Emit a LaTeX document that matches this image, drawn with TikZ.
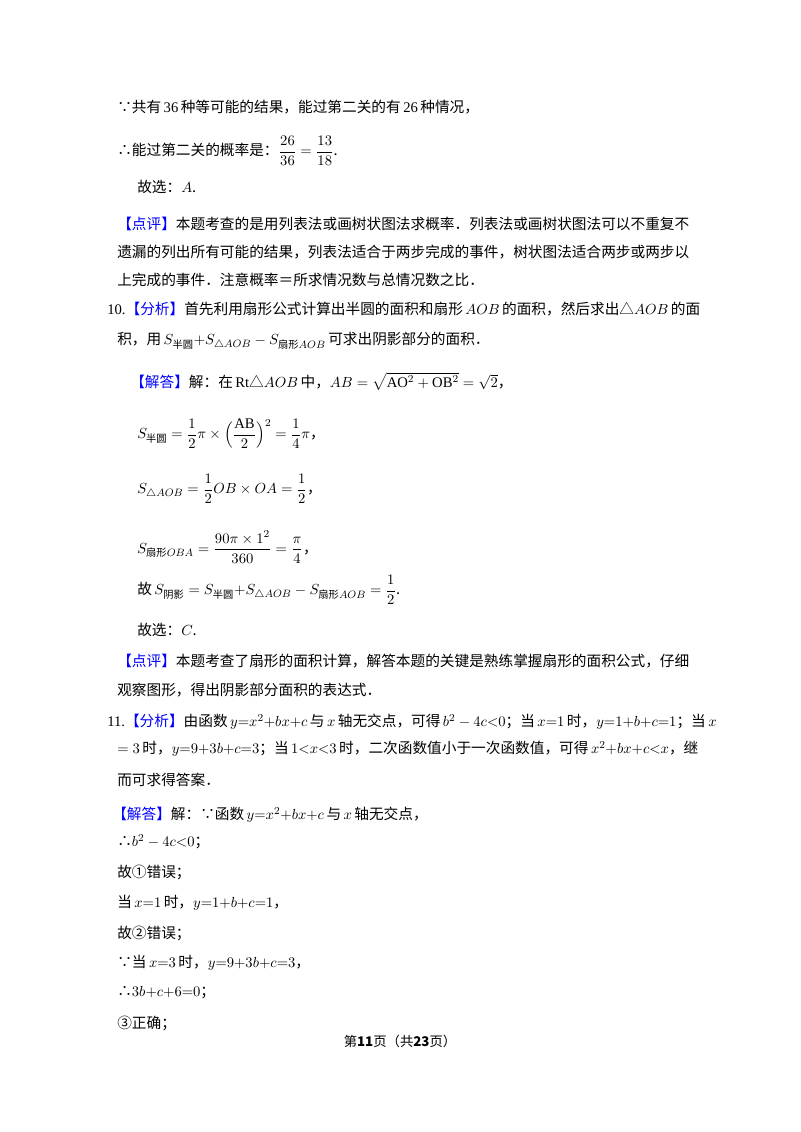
\documentclass[tikz,border=0pt]{standalone}
\usepackage{amsmath}
\usepackage{fontspec}
\setmainfont{Liberation Serif}
\newfontfamily\cjk{Noto Sans CJK SC}
\newcommand{\cn}[1]{\text{\cjk #1}}
\newcommand{\bk}[1]{{\color{blue}【#1】}}
\begin{document}
\begin{tikzpicture}[x=0.75pt,y=-0.75pt,
  txt/.style={anchor=west,inner sep=0pt,font=\cjk\fontsize{11}{13}\selectfont}]
\useasboundingbox[fill=white] (0,0) rectangle (800,1132);
\node[txt] (l1) at (117,107) {∵共有\,{\rmfamily 36}\,种等可能的结果，能过第二关的有\,{\rmfamily 26}\,种情况，};
\node[txt] (l2) at (117,151) {∴能过第二关的概率是：$\dfrac{26}{36}=\dfrac{13}{18}$.};
\node[txt] (l3) at (137,187) {故选：$A$.};
\node[txt] (l4) at (117,224) {\bk{点评}本题考查的是用列表法或画树状图法求概率．列表法或画树状图法可以不重复不};
\node[txt] (l5) at (117,252) {遗漏的列出所有可能的结果，列表法适合于两步完成的事件，树状图法适合两步或两步以};
\node[txt] (l6) at (117,280) {上完成的事件．注意概率＝所求情况数与总情况数之比．};
\node[txt] (l7) at (107,309) {{\rmfamily 10.}\bk{分析}首先利用扇形公式计算出半圆的面积和扇形\,$AOB$\,的面积，然后求出△$AOB$\,的面};
\node[txt] (l8) at (117,341) {积，用\,$S_{\cn{半圆}}{+}S_{\triangle AOB}-S_{\cn{扇形}AOB}$\,可求出阴影部分的面积．};
\node[txt] (l9) at (130,381) {\bk{解答}解：在\,{\rmfamily Rt}△$AOB$\,中，$AB=\sqrt{\mathrm{AO}^2+\mathrm{OB}^2}=\sqrt{2}$，};
\node[txt] (l10) at (137,434) {$S_{\cn{半圆}}=\dfrac{1}{2}\pi\times\Big(\dfrac{\mathrm{AB}}{2}\Big)^2=\dfrac{1}{4}\pi$，};
\node[txt] (l11) at (137,489) {$S_{\triangle AOB}=\dfrac{1}{2}OB\times OA=\dfrac{1}{2}$，};
\node[txt] (l12) at (137,547) {$S_{\cn{扇形}OBA}=\dfrac{90\pi\times1^2}{360}=\dfrac{\pi}{4}$，};
\node[txt] (l13) at (137,590) {故\,$S_{\cn{阴影}}=S_{\cn{半圆}}{+}S_{\triangle AOB}-S_{\cn{扇形}AOB}=\dfrac{1}{2}$.};
\node[txt] (l14) at (137,630) {故选：$C$.};
\node[txt] (l15) at (117,661) {\bk{点评}本题考查了扇形的面积计算，解答本题的关键是熟练掌握扇形的面积公式，仔细};
\node[txt] (l16) at (117,690) {观察图形，得出阴影部分面积的表达式．};
\node[txt] (l17) at (107,722) {{\rmfamily 11.}\bk{分析}由函数\,$y{=}x^2{+}bx{+}c$\,与\,$x$\,轴无交点，可得\,$b^2-4c{<}0$；当\,$x{=}1$\,时，$y{=}1{+}b{+}c{=}1$；当\,$x$};
\node[txt] (l18) at (117,749) {$=3$\,时，$y{=}9{+}3b{+}c{=}3$；当\,$1{<}x{<}3$\,时，二次函数值小于一次函数值，可得\,$x^2{+}bx{+}c{<}x$，继};
\node[txt] (l19) at (117,780) {而可求得答案．};
\node[txt] (l20) at (112,815) {\bk{解答}解：∵函数\,$y{=}x^2{+}bx{+}c$\,与\,$x$\,轴无交点，};
\node[txt] (l21) at (117,842) {∴$b^2-4c{<}0$；};
\node[txt] (l22) at (117,872) {故①错误；};
\node[txt] (l23) at (117,903) {当\,$x{=}1$\,时，$y{=}1{+}b{+}c{=}1$，};
\node[txt] (l24) at (117,933) {故②错误；};
\node[txt] (l25) at (117,963) {∵当\,$x{=}3$\,时，$y{=}9{+}3b{+}c{=}3$，};
\node[txt] (l26) at (117,993) {∴$3b{+}c{+}6{=}0$；};
\node[txt] (l27) at (117,1023) {③正确；};
\node[inner sep=0pt,font=\cjk\fontsize{10}{12}\selectfont] (foot) at (400,1041) {第\textbf{11}页（共\textbf{23}页）};
\end{tikzpicture}
\end{document}
